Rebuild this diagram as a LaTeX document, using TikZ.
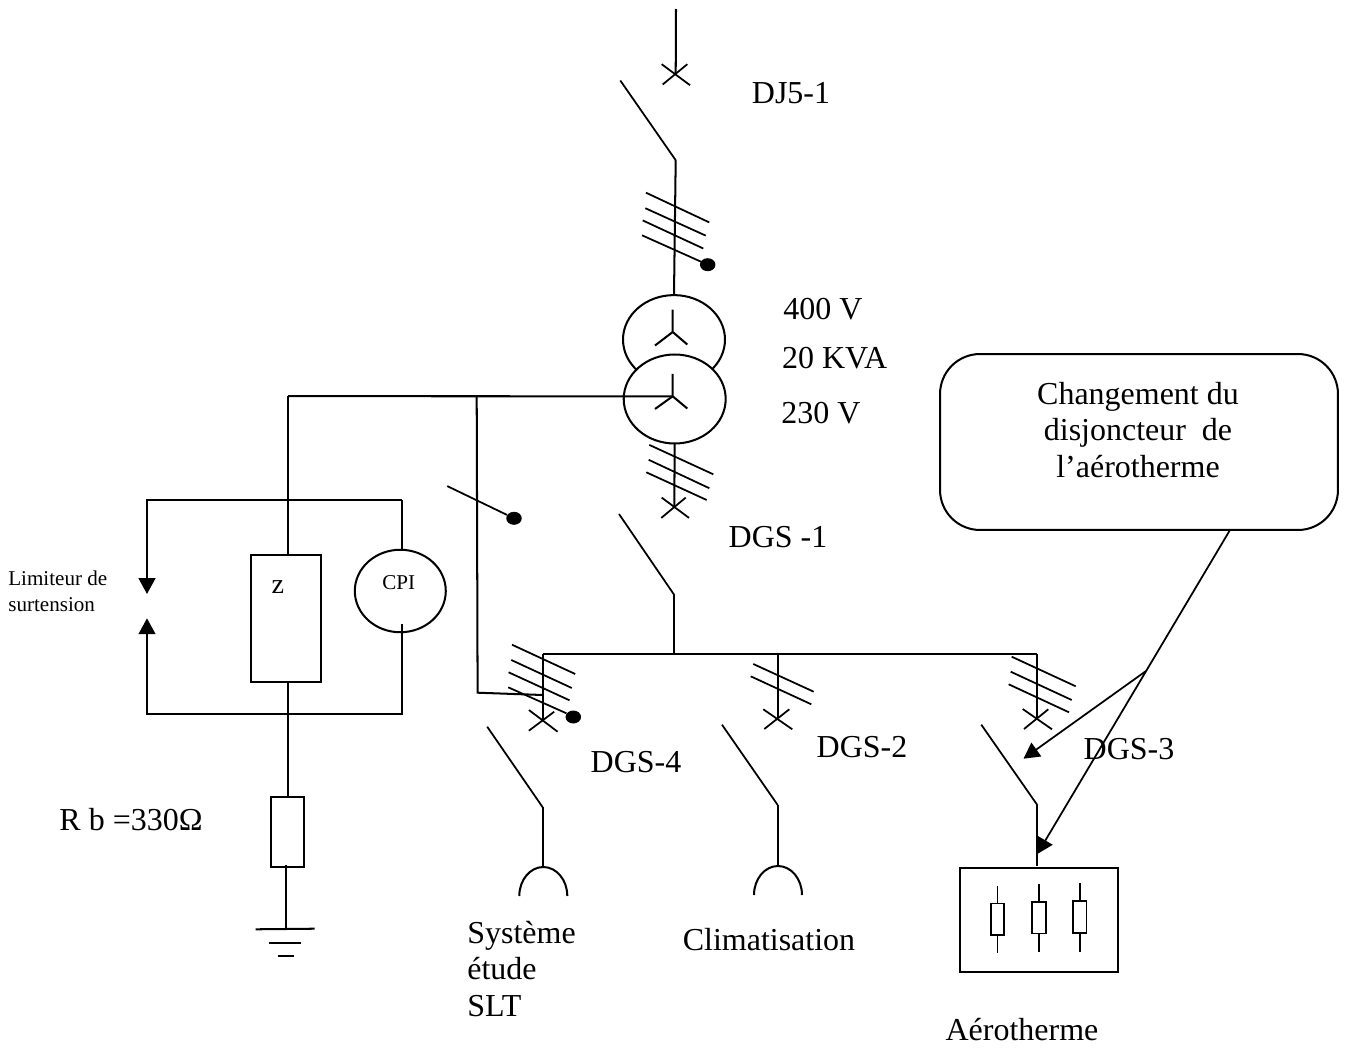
\documentclass[tikz,border=0pt]{standalone}
\usepackage{fontspec}
\setmainfont{Liberation Serif}
\usetikzlibrary{arrows.meta,shapes.geometric}
\begin{document}
\begin{tikzpicture}[
    x=0.02cm,
    y=-0.02cm,
    >={Triangle[length=9pt,width=9.5pt]},
    wire/.style={
        line width=1.15pt
    },
    thinwire/.style={
        line width=1pt
    },
    bullet/.style={
        fill=black,
        ellipse,
        inner sep=0pt,
        minimum width=0.31cm,
        minimum height=0.26cm
    },
    box/.style={
        draw,
        line width=1.15pt,
        rectangle,
        inner sep=0pt,
        outer sep=0pt
    },
    round/.style={
        draw,
        line width=1.15pt,
        ellipse,
        inner sep=0pt,
        outer sep=0pt
    },
    label/.style={
        font=\fontsize{18.2}{20.8}\selectfont,
        inner sep=0pt
    },
    small/.style={
        font=\fontsize{12}{14.8}\selectfont,
        inner sep=0pt
    }
    ]
    \useasboundingbox (0,0) rectangle (1347,1048);

    % transformer
    \node[round,minimum width=2.04cm,minimum height=1.78cm] (PRIM) at (674,339.6){};
    \node[round,fill=white,minimum width=2.04cm,minimum height=1.78cm] (SEC) at (674.7,399){};
    \coordinate (PRIMSTAR) at (672.7,332);
    \coordinate (SECSTAR) at (672.7,396.3);
    \draw[wire] (672.7,309.7) -- (PRIMSTAR) -- (655,345.5) (PRIMSTAR) -- (687.3,344.5);
    \draw[wire] (672.7,373.9) -- (SECSTAR) -- (655,409) (SECSTAR) -- (687.3,408.5);

    % incoming line
    \coordinate (TOP) at (676,9);
    \coordinate (DJ) at (675.7,74.4);
    \coordinate (DJHINGE) at (675.7,160.2);
    \coordinate (DJBLADE) at (620.3,80.5);
    \draw[wire] (TOP) -- (DJ);
    \draw[thinwire] (DJBLADE) -- (DJHINGE);
    \draw[wire] (DJHINGE) -- (PRIM.north);

    % tick marks and crosses
    \foreach \a/\b/\c/\d in {
        646/192.7/709.3/222.4, 645.3/208.2/705.7/235.6, 642.7/220.4/703.3/248.5, 642/235.3/701.7/262,
        649.3/444.9/713.3/474.3, 648.7/459.8/709.3/488.2, 646.3/472.3/706.7/500,
        512/644.7/575.2/674, 511.3/660/571.8/688, 508.6/672.3/569.5/700.3, 508.2/687.3/566.4/713.3,
        753.3/664/813.7/691.7, 750.7/676.3/811.3/704.3,
        1011.7/656.7/1075.7/686.3, 1010.7/671.7/1071.7/700, 1008.7/684.3/1069/712.3,
        661.7/64.2/690/85.2, 662.7/84.5/687.3/64.2,
        661.7/497.6/689/517.9, 661.3/517.9/685.7/497.6,
        528.9/710/557.6/731.7, 528.9/730.7/554.2/711.7,
        764.3/729/789.3/709.3, 763.3/709.3/792.3/729.3,
        1024/729/1048.3/709.3, 1022.7/709/1052/729.3
    }{
        \draw[thinwire] (\a,\b) -- (\c,\d);
    }
    \node[bullet] (DOTA) at (707.7,264.7){};
    \node[bullet] (DOTB) at (514,518.3){};
    \node[bullet] (DOTC) at (573.3,717){};
    \draw[thinwire] (447.3,486.1) -- (DOTB);

    % secondary side
    \coordinate (DGSA) at (674.3,507);
    \coordinate (DGSAHINGE) at (674.3,595);
    \coordinate (DGSABLADE) at (619,514);
    \draw[wire] (SEC.south) -- (DGSA);
    \draw[thinwire] (DGSABLADE) -- (DGSAHINGE);
    \draw[wire] (DGSAHINGE) -- (674.3,654);

    % neutral and tap
    \coordinate (NEUTRAL) at (288,396.2);
    \coordinate (TAP) at (476.7,396.2);
    \coordinate (TAPLOW) at (477.6,692.7);
    \coordinate (TAPEND) at (542.7,695);
    \draw[wire] (NEUTRAL) -- (SECSTAR);
    \draw[wire] (TAP) -- (TAPLOW) -- (TAPEND);

    % impedance, CPI and limiter
    \node[box,minimum width=1.386cm,minimum height=2.53cm] (ZBOX) at (286,618.6){};
    \node[round,minimum width=1.82cm,minimum height=1.65cm] (CPI) at (400.3,591){};
    \node[box,minimum width=0.666cm,minimum height=1.39cm] (RB) at (287.2,832){};
    \node[font=\fontsize{16}{18}\selectfont,inner sep=0pt] (ZTXT) at (277.8,587) {z};
    \node[small] (CPITXT) at (398.8,583) {CPI};
    \coordinate (UPLEFT) at (147,500);
    \coordinate (UPRIGHT) at (401.8,500);
    \coordinate (LOWLEFT) at (147,714.3);
    \coordinate (LOWRIGHT) at (401.8,714.3);
    \coordinate (LIMUP) at (147,594);
    \coordinate (LIMLOW) at (147,618.3);
    \draw[wire] (NEUTRAL) -- (288,555.3);
    \draw[wire] (288,682) -- (288,797.3);
    \draw[wire] (UPRIGHT) -- (401.8,549.7);
    \draw[wire,->] (UPRIGHT) -- (UPLEFT) -- (LIMUP);
    \draw[wire,->] (401.8,624) -- (LOWRIGHT) -- (LOWLEFT) -- (LIMLOW);

    % earth
    \coordinate (EARTH) at (286.3,929.3);
    \draw[wire] (286.3,865) -- (EARTH);
    \draw[wire] (255.6,929.3) -- (314.6,928.7);
    \draw[wire] (269.4,943.3) -- (300.8,943.3);
    \draw[wire] (277.5,956) -- (293.5,956);

    % busbar
    \coordinate (BUSA) at (542.7,654);
    \coordinate (BUSB) at (777.7,654);
    \coordinate (BUSC) at (1037.3,654);
    \draw[wire] (BUSA) -- (BUSC);

    % outgoing feeders
    \draw[wire] (BUSA) -- (542.7,720.7);
    \draw[wire] (BUSB) -- (777.7,718.3);
    \draw[wire] (BUSC) -- (1037.3,719.3);
    \draw[thinwire] (487.2,726.7) -- (542.7,807.3);
    \draw[thinwire] (722,724.7) -- (777.7,805);
    \draw[thinwire] (981.3,724.7) -- (1037.3,805);
    \draw[wire] (542.7,807.3) -- (542.7,866.7);
    \draw[wire] (777.7,805) -- (777.7,865.7);
    \draw[wire] (1037.3,805) -- (1037.3,865.7);

    % sockets
    \draw[wire] (519.3,896) arc[start angle=180,end angle=0,x radius=0.48cm,y radius=0.58cm];
    \draw[wire] (754,895) arc[start angle=180,end angle=0,x radius=0.48cm,y radius=0.58cm];

    % air heater
    \node[box,minimum width=3.17cm,minimum height=2.09cm] (HEATER) at (1039,920.2){};
    \foreach \x/\ya/\yb/\yc in {997.4/885.7/919.2/953.3, 1039/884/917.7/952.3, 1079.7/883.3/917/951.7}{
        \draw[thinwire] (\x,\ya) -- (\x,\yb);
        \draw[thinwire] (\x,\yb) -- (\x,\yc);
        \node[box,line width=1pt,fill=white,minimum width=0.27cm,minimum height=0.63cm] at (\x,\yb){};
    }

    % note
    \node[box,rounded corners=0.8cm,minimum width=7.96cm,minimum height=3.52cm] (NOTE) at (1139,442){};
    \node[label,align=center] (NOTETXT) at (1138,430) {Changement du\\disjoncteur\ \ de\\l’aérotherme};
    \coordinate (NOTEFOOT) at (1230,530);
    \coordinate (NOTEFORK) at (1146,671);
    \draw[thinwire,->] (NOTEFOOT) -- (1037.3,854);
    \draw[thinwire,->] (NOTEFORK) -- (1023.5,758.7);

    % texts
    \node[label] (LDJ) at (791,93) {DJ5-1};
    \node[label] (LPRIM) at (823,309) {400 V};
    \node[label] (LPOWER) at (834.7,358) {20 KVA};
    \node[label] (LSEC) at (821,413) {230 V};
    \node[label] (LDGSA) at (778,537) {DGS -1};
    \node[label] (LDGSD) at (636,762) {DGS-4};
    \node[label] (LDGSB) at (862,747) {DGS-2};
    \node[label] (LDGSC) at (1129,749) {DGS-3};
    \node[label] (LRB) at (131,820) {R b =330Ω};
    \node[label,align=left,anchor=west] (LSLT) at (467,969) {Système\\étude\\SLT};
    \node[label] (LCLIM) at (769,940) {Climatisation};
    \node[label] (LHEATER) at (1022,1030) {Aérotherme};
    \node[small,align=left,anchor=west] (LLIM) at (8,591.5) {Limiteur de\\surtension};
\end{tikzpicture}
\end{document}
